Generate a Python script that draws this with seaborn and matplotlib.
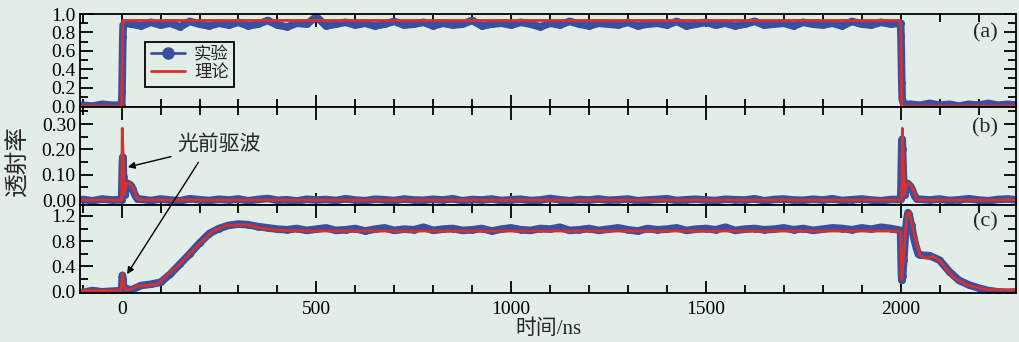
import matplotlib
matplotlib.use('Agg')
import pandas as pd
import matplotlib.pyplot as plt
from matplotlib.lines import Line2D
from matplotlib.ticker import MultipleLocator, FormatStrFormatter
import seaborn as sns

# sampling times of the measured traces (ns)
t_grid = [-100, -75, -50, -25, 0,
          25, 50, 75, 100, 125, 150, 175, 200, 225, 250,
          275, 300, 325, 350, 375, 400, 425, 450, 475, 500,
          525, 550, 575, 600, 625, 650, 675, 700, 725, 750,
          775, 800, 825, 850, 875, 900, 925, 950, 975, 1000,
          1025, 1050, 1075, 1100, 1125, 1150, 1175, 1200, 1225, 1250,
          1275, 1300, 1325, 1350, 1375, 1400, 1425, 1450, 1475, 1500,
          1525, 1550, 1575, 1600, 1625, 1650, 1675, 1700, 1725, 1750,
          1775, 1800, 1825, 1850, 1875, 1900, 1925, 1950, 1975,
          2000,
          2025, 2050, 2075, 2100, 2125, 2150, 2175, 2200, 2225, 2250, 2275, 2300]

# (a) measured
exp_a = [0.01, 0.00, 0.02, 0.01, 0.01,
         0.89, 0.87, 0.91, 0.88, 0.90, 0.86, 0.92, 0.89, 0.87, 0.90,
         0.88, 0.91, 0.87, 0.89, 0.93, 0.88, 0.86, 0.90, 0.89, 0.97,
         0.87, 0.89, 0.91, 0.88, 0.90, 0.87, 0.89, 0.92, 0.88, 0.89,
         0.91, 0.87, 0.90, 0.88, 0.89, 0.93, 0.87, 0.89, 0.90, 0.88,
         0.91, 0.89, 0.86, 0.90, 0.88, 0.92, 0.89, 0.87, 0.90, 0.89,
         0.88, 0.91, 0.87, 0.89, 0.90, 0.88, 0.92, 0.87, 0.89, 0.91,
         0.88, 0.90, 0.87, 0.89, 0.92, 0.88, 0.89, 0.90, 0.87, 0.91,
         0.89, 0.88, 0.90, 0.87, 0.92, 0.89, 0.88, 0.91, 0.89,
         0.90,
         0.02, 0.01, 0.03, 0.01, 0.02, 0.00, 0.02, 0.01, 0.03, 0.01, 0.02, 0.01]
edge_a_t = [1, 2, 3, 4, 8, 2001, 2002, 2003, 2004, 2008]
edge_a_v = [0.15, 0.45, 0.75, 0.88, 0.90, 0.75, 0.50, 0.25, 0.08, 0.02]

# (b) measured
exp_b = [0.002, -0.003, 0.004, 0.000, 0.001,
         0.055, 0.003, -0.002, 0.004, 0.000, -0.003, 0.005, 0.001, -0.002, 0.003,
         0.000, 0.004, -0.003, 0.002, 0.006, -0.001, 0.001, -0.004, 0.003, 0.000,
         0.002, -0.002, 0.005, 0.000, -0.003, 0.003, 0.001, -0.002, 0.004, 0.000,
         -0.001, 0.003, 0.000, 0.005, -0.003, 0.002, 0.000, 0.004, -0.002, 0.001,
         0.003, -0.002, 0.000, 0.006, 0.001, -0.003, 0.002, 0.000, 0.004, -0.001,
         0.001, 0.004, -0.003, 0.000, 0.002, 0.005, -0.002, 0.001, 0.003, 0.000,
         -0.002, 0.003, 0.001, 0.000, 0.005, -0.003, 0.002, 0.004, 0.000, -0.001,
         0.003, 0.000, 0.005, -0.002, 0.001, 0.004, 0.000, -0.003, 0.002,
         0.002,
         0.055, 0.003, 0.000, 0.004, -0.002, 0.001, 0.005, 0.000, -0.003, 0.002, 0.004, 0.000]
edge_b_t = [1, 2, 3, 4, 5, 7, 9, 12, 16, 22, 28, 34, 40,
            2001, 2002, 2003, 2004, 2005, 2006, 2008, 2010, 2014, 2018, 2030, 2036, 2042]
edge_b_v = [0.08, 0.15, 0.17, 0.13, 0.09, 0.04, 0.02, 0.05, 0.065, 0.06, 0.045, 0.02, 0.005,
            0.05, 0.15, 0.22, 0.24, 0.20, 0.14, 0.06, 0.02, 0.05, 0.065, 0.04, 0.015, 0.003]

# (c) measured
exp_c = [-0.01, 0.02, 0.00, 0.01, 0.02,
         0.03, 0.10, 0.12, 0.15, 0.28, 0.44, 0.60, 0.77, 0.92, 1.00,
         1.05, 1.07, 1.06, 1.03, 1.01, 0.99,
         0.98, 1.00, 0.97, 0.99, 1.01, 0.97, 0.98, 1.00, 0.96, 0.99,
         1.01, 0.97, 0.99, 0.98, 1.02, 0.97, 0.99, 1.00, 0.97, 0.98,
         1.00, 0.96, 0.99, 1.01, 0.98, 0.97, 1.00, 0.99, 1.02, 0.97,
         0.98, 1.00, 0.97, 0.99, 1.01, 0.98, 0.96, 1.00, 0.98, 0.99,
         1.01, 0.97, 0.99, 1.00, 0.98, 1.02, 0.97, 0.99, 1.00, 0.98,
         0.99, 1.01, 0.98, 1.00, 0.97, 0.99, 1.01, 1.00, 0.98, 1.01,
         0.99, 1.02, 1.00,
         0.97,
         1.12, 0.58, 0.57, 0.50, 0.32, 0.18, 0.11, 0.06, 0.02, 0.00, -0.01, 0.00]
edge_c_t = [1, 2, 3, 5, 8, 12,
            2001, 2002, 2003, 2005, 2008, 2012, 2016, 2019, 2022, 2028, 2034, 2040, 2045]
edge_c_v = [0.15, 0.26, 0.20, 0.08, 0.03, 0.05,
            0.60, 0.30, 0.18, 0.25, 0.50, 0.90, 1.15, 1.25, 1.22, 1.05, 0.85, 0.70, 0.60]

# theory curves
th_a_t = [-107, 0, 3, 2000, 2003, 2300]
th_a_v = [0.0, 0.0, 0.93, 0.93, 0.0, 0.0]

th_b_t = [-107, 0, 1.5, 7, 12, 22, 30, 40, 47,
          2003, 2004.5, 2010, 2015, 2025, 2033, 2041, 2048, 2300]
th_b_v = [0.0, 0.0, 0.283, 0.02, 0.065, 0.065, 0.045, 0.005, 0.0,
          0.0, 0.283, 0.02, 0.065, 0.063, 0.04, 0.003, 0.0, 0.0]

th_c_t = [-107, -2, 0, 2, 6, 12, 25, 40, 85, 95, 150, 200, 235, 270, 320, 355, 400, 500,
          2000, 2003, 2008, 2016, 2022, 2032, 2050, 2067, 2084, 2101, 2135, 2169, 2204, 2221, 2300]
th_c_v = [0.02, 0.02, 0.12, 0.30, 0.08, 0.03, 0.05, 0.09, 0.11, 0.14, 0.44, 0.76, 0.96, 1.05, 1.06, 1.01, 0.97, 0.96,
          0.96, 0.20, 0.60, 1.20, 1.27, 0.98, 0.57, 0.53, 0.56, 0.49, 0.23, 0.11, 0.06, 0.035, 0.03]

sns.set_theme(style='ticks')
plt.rcParams['font.family'] = ['Liberation Serif', 'Noto Sans CJK SC']
plt.rcParams['axes.unicode_minus'] = False

bg = '#e3ede7'
blue = '#3b4f9e'
red = '#d8312b'

fig = plt.figure(figsize=(10.2, 3.42), dpi=100, facecolor=bg)
gs = fig.add_gridspec(3, 1, left=0.0784, right=0.996, top=0.959, bottom=0.143,
                      hspace=0, height_ratios=[93, 98, 88])
axes = [fig.add_subplot(gs[i]) for i in range(3)]

panels = [
    (exp_a, edge_a_t, edge_a_v, th_a_t, th_a_v),
    (exp_b, edge_b_t, edge_b_v, th_b_t, th_b_v),
    (exp_c, edge_c_t, edge_c_v, th_c_t, th_c_v),
]
for i, (ax, (ev, et_edge, ev_edge, tt, tv)) in enumerate(zip(axes, panels)):
    ax.set_facecolor(bg)
    df_exp = pd.DataFrame({'t': t_grid + et_edge, 'v': ev + ev_edge}).sort_values('t')
    df_th = pd.DataFrame({'t': tt, 'v': tv})
    sns.lineplot(data=df_exp, x='t', y='v', ax=ax, color=blue, lw=5.5, marker='o',
                 ms=5, mew=0, estimator=None, sort=True, legend=False)
    sns.lineplot(data=df_th, x='t', y='v', ax=ax, color=red, lw=2.0,
                 estimator=None, sort=False, legend=False)
    ax.set_xlim(-107, 2296)
    ax.set_xlabel('')
    ax.set_ylabel('')
    ax.xaxis.set_major_locator(MultipleLocator(500))
    ax.xaxis.set_minor_locator(MultipleLocator(100))
    ax.tick_params(which='both', direction='in', top=True, right=True,
                   width=1.3, labelsize=14, pad=3, colors='black')
    ax.tick_params(axis='x', pad=6)
    ax.tick_params(which='major', length=9)
    ax.tick_params(which='minor', length=6)
    for s in ax.spines.values():
        s.set_linewidth(1.3)
        s.set_color('black')
    if i < 2:
        ax.tick_params(labelbottom=False)

ax_a, ax_b, ax_c = axes
ax_a.set_ylim(-0.01, 1.0)
ax_a.yaxis.set_major_locator(MultipleLocator(0.2))
ax_a.yaxis.set_minor_locator(MultipleLocator(0.1))
ax_a.yaxis.set_major_formatter(FormatStrFormatter('%.1f'))

ax_b.set_ylim(-0.02, 0.367)
ax_b.yaxis.set_major_locator(MultipleLocator(0.1))
ax_b.yaxis.set_minor_locator(MultipleLocator(0.05))
ax_b.yaxis.set_major_formatter(FormatStrFormatter('%.2f'))

ax_c.set_ylim(-0.02, 1.37)
ax_c.yaxis.set_major_locator(MultipleLocator(0.4))
ax_c.yaxis.set_minor_locator(MultipleLocator(0.2))
ax_c.yaxis.set_major_formatter(FormatStrFormatter('%.1f'))
ax_c.set_xlabel('时间/ns', fontsize=15, labelpad=1)

for ax, lab, yy in zip(axes, ['(a)', '(b)', '(c)'], [0.80, 0.79, 0.81]):
    ax.text(0.967, yy, lab, transform=ax.transAxes, ha='center', va='center', fontsize=16)

handles = [Line2D([], [], color=blue, lw=2, marker='o', ms=8),
           Line2D([], [], color=red, lw=2)]
leg = ax_a.legend(handles, ['实验', '理论'], loc='upper left', bbox_to_anchor=(0.07, 0.70),
                  borderaxespad=0, fontsize=12.5, frameon=True, fancybox=False,
                  framealpha=1, facecolor=bg, edgecolor='black', handlelength=2.0,
                  borderpad=0.3, labelspacing=0.1, handletextpad=0.5)
leg.get_frame().set_linewidth(1.3)

arrow_kw = dict(arrowstyle='-|>', color='black', lw=1.0, mutation_scale=10, shrinkA=2, shrinkB=0)
ax_b.annotate('光前驱波', xy=(16, 0.13), xytext=(142, 0.217), ha='left', va='center',
              fontsize=15, arrowprops=arrow_kw)
ax_c.annotate('', xy=(14, 0.28), xytext=(201, 0.158), textcoords=ax_b.transData,
              arrowprops=arrow_kw, annotation_clip=False)

fig.text(0.018, 0.53, '透射率', rotation=90, ha='center', va='center', fontsize=17)

fig.savefig('out.png', dpi=100, facecolor=bg)
